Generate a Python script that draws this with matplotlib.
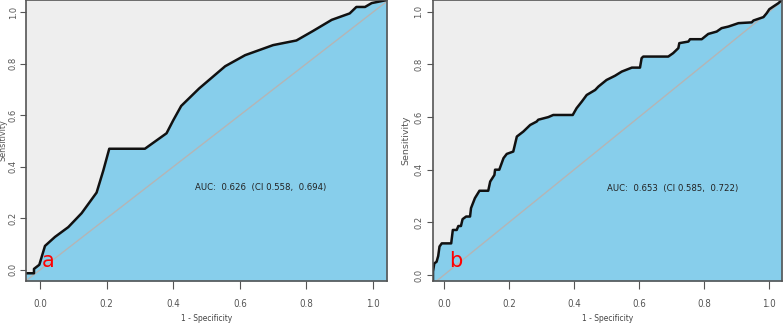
import matplotlib
matplotlib.use("Agg")
import matplotlib.pyplot as plt
from matplotlib import font_manager as fm

# ROC curve a (1 - specificity, sensitivity)
a_fpr = [-0.042, -0.018, -0.018, -0.002, 0.015, 0.045, 0.085, 0.125, 0.17, 0.19,
         0.208, 0.315, 0.38, 0.40, 0.424, 0.478, 0.556, 0.616, 0.70, 0.77,
         0.82, 0.876, 0.93, 0.95, 0.976, 0.996, 1.042]
a_tpr = [-0.013, -0.013, 0.004, 0.02, 0.093, 0.128, 0.166, 0.22, 0.30, 0.385,
         0.47, 0.47, 0.53, 0.58, 0.636, 0.704, 0.79, 0.833, 0.872, 0.89,
         0.927, 0.97, 0.995, 1.02, 1.02, 1.035, 1.047]

# ROC curve b
b_fpr = [-0.034, -0.034, -0.03, -0.023, -0.018, -0.014, -0.007, 0.022, 0.027, 0.039,
         0.044, 0.052, 0.057, 0.068, 0.08, 0.083, 0.095, 0.109, 0.136, 0.142,
         0.155, 0.157, 0.17, 0.183, 0.193, 0.213, 0.224, 0.244, 0.265, 0.285,
         0.29, 0.321, 0.336, 0.396, 0.408, 0.424, 0.439, 0.465, 0.475, 0.50,
         0.526, 0.547, 0.578, 0.603, 0.608, 0.613, 0.69, 0.705, 0.721, 0.724,
         0.752, 0.757, 0.793, 0.813, 0.839, 0.854, 0.875, 0.906, 0.947, 0.952,
         0.983, 0.993, 1.001, 1.013, 1.029, 1.04]
b_tpr = [-0.023, 0.013, 0.044, 0.05, 0.072, 0.108, 0.12, 0.12, 0.171, 0.171,
         0.186, 0.186, 0.212, 0.222, 0.222, 0.254, 0.292, 0.32, 0.32, 0.355,
         0.38, 0.40, 0.40, 0.444, 0.46, 0.469, 0.526, 0.545, 0.57, 0.583,
         0.59, 0.60, 0.608, 0.608, 0.634, 0.659, 0.684, 0.703, 0.716, 0.741,
         0.757, 0.773, 0.788, 0.788, 0.824, 0.83, 0.83, 0.843, 0.862, 0.881,
         0.887, 0.896, 0.896, 0.916, 0.925, 0.938, 0.944, 0.957, 0.96, 0.967,
         0.98, 0.995, 1.01, 1.02, 1.033, 1.046]

auc_text = ['AUC:  0.626  (CI 0.558,  0.694)', 'AUC:  0.653  (CI 0.585,  0.722)']
panel_labels = ['a', 'b']
ticks = [0.0, 0.2, 0.4, 0.6, 0.8, 1.0]
tick_labels = ['0.0', '0.2', '0.4', '0.6', '0.8', '1.0']

# the reference uses a narrow font for the x axis and the AUC text;
# pick a condensed face if one is installed, else Roboto (narrower than DejaVu)
narrow = None
for f in fm.fontManager.ttflist:
    fn = f.fname.lower()
    if 'narrow' in fn or 'condensed' in fn:
        if 'bold' in fn or 'italic' in fn or 'oblique' in fn:
            continue
        narrow = fm.FontProperties(fname=f.fname)
        break
if narrow is None:
    narrow = fm.FontProperties(family='Roboto')

def nf(size):
    p = narrow.copy()
    p.set_size(size)
    return p

fig = plt.figure(figsize=(7.83, 3.27), dpi=100)
W, H = 783, 327

panels = [
    # axes box in pixels (left, right, bottom, top), limits
    dict(box=(26, 387, 281, 0), xlim=(-0.042, 1.042), ylim=(-0.043, 1.047),
         fpr=a_fpr, tpr=a_tpr, auc_xy=(0.465, 0.32), lab_xy=(0.006, 0.012),
         ylab_x=-0.05, ylab_size=5.8, ypad=2),
    dict(box=(433, 782, 281, 0), xlim=(-0.034, 1.04), ylim=(-0.023, 1.045),
         fpr=b_fpr, tpr=b_tpr, auc_xy=(0.50, 0.33), lab_xy=(0.015, 0.03),
         ylab_x=-0.064, ylab_size=6.8, ypad=3),
]

for i, p in enumerate(panels):
    l, r, b, t = p['box']
    ax = fig.add_axes([l / W, 1 - b / H, (r - l) / W, (b - t) / H])
    ax.set_facecolor('#eeeeee')
    ax.set_xlim(*p['xlim'])
    ax.set_ylim(*p['ylim'])

    ax.fill_between(p['fpr'], p['tpr'], p['ylim'][0], color='#87ceeb', lw=0)
    ax.plot([-0.1, 1.1], [-0.1, 1.1], color='#b5b5b5', lw=1.0)
    ax.plot(p['fpr'], p['tpr'], color='#111111', lw=1.8, solid_joinstyle='round')

    ax.text(p['auc_xy'][0], p['auc_xy'][1], auc_text[i], fontproperties=nf(6.8),
            color='#222222', va='center', ha='left')
    ax.text(p['lab_xy'][0], p['lab_xy'][1], panel_labels[i], color='red',
            fontsize=15, va='baseline', ha='left')

    ax.set_xticks(ticks)
    ax.set_xticklabels(tick_labels, fontproperties=nf(7), color='#555555')
    ax.set_yticks(ticks)
    ax.set_yticklabels(tick_labels, fontsize=6, color='#555555', rotation=90,
                       va='center')
    ax.tick_params(axis='x', length=6, width=0.8, color='#555555', pad=7)
    ax.tick_params(axis='y', length=4, width=0.8, color='#555555', pad=p['ypad'])

    ax.set_xlabel('1 - Specificity', fontproperties=nf(6), color='#444444')
    ax.xaxis.set_label_coords(0.5, -0.118)
    ax.set_ylabel('Sensitivity', fontsize=p['ylab_size'], color='#555555')
    ax.yaxis.set_label_coords(p['ylab_x'], 0.5)

    for s in ax.spines.values():
        s.set_color('#555555')
        s.set_linewidth(1.2)

fig.savefig('out.png', dpi=100)
